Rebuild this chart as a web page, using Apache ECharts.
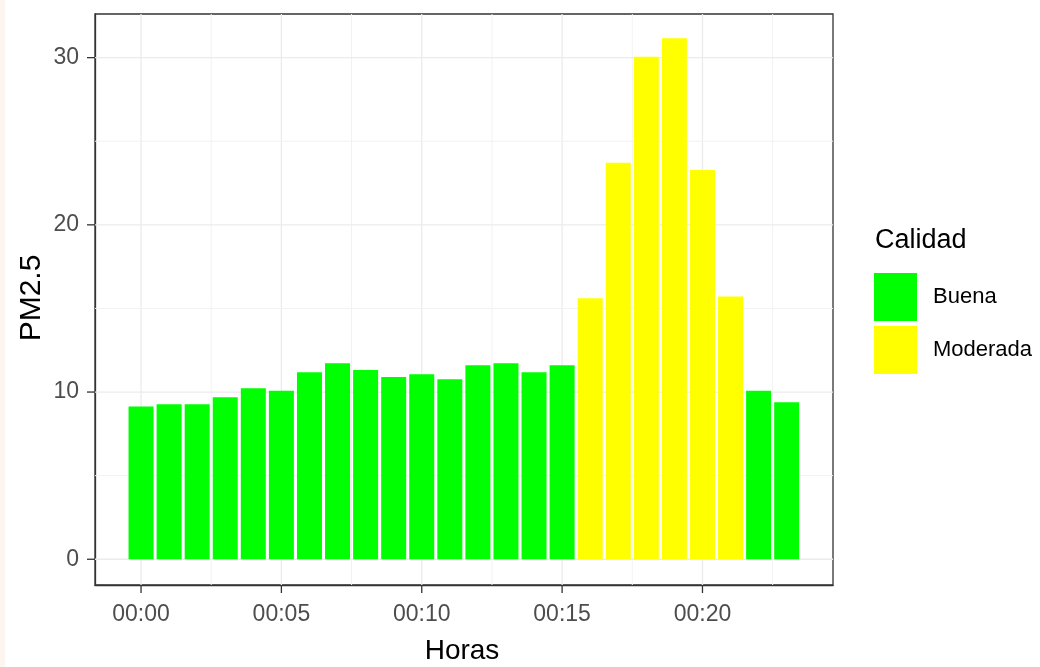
<!DOCTYPE html>
<html>
<head>
<meta charset="utf-8">
<script src="https://cdn.jsdelivr.net/npm/echarts@6/dist/echarts.min.js"></script>
<style>
html,body{margin:0;padding:0;background:#ffffff;}
#c{width:1040px;height:667px;}
</style>
</head>
<body>
<div id="c"></div>
<script>
// ---------- data ----------
const hours = [0,1,2,3,4,5,6,7,8,9,10,11,12,13,14,15,16,17,18,19,20,21,22,23];
const pm25 = [9.13,9.27,9.27,9.69,10.23,10.08,11.18,11.72,11.32,10.90,11.06,10.77,
              11.60,11.72,11.18,11.60,15.61,23.72,30.06,31.16,23.28,15.71,10.08,9.39];
const calidad = ['Buena','Buena','Buena','Buena','Buena','Buena','Buena','Buena',
                 'Buena','Buena','Buena','Buena','Buena','Buena','Buena','Buena',
                 'Moderada','Moderada','Moderada','Moderada','Moderada','Moderada',
                 'Buena','Buena'];
const categories = ['Buena','Moderada'];
const xTickValues = [0,5,10,15,20];
const xTickLabels = ['00:00','00:05','00:10','00:15','00:20'];
const yTickValues = [0,10,20,30];
const xMinorGrid = [2.5,7.5,12.5,17.5,22.5];
const yMinorGrid = [5,15,25];

// ---------- styling ----------
const FONT = "'Liberation Sans',Arial,sans-serif";
const colors = {Buena:'#00ff00', Moderada:'#ffff00'};
const X_MIN = -1.64, X_MAX = 24.65, Y_MIN = -1.54, Y_MAX = 32.61;
const TICK_LEN = 8;

const chart = echarts.init(document.getElementById('c'), null, {renderer:'canvas'});

const vGrid = xTickValues.map(v => [v, 1]).concat(xMinorGrid.map(v => [v, 0]));
const hGrid = yTickValues.map(v => [v, 1]).concat(yMinorGrid.map(v => [v, 0]));

function gridLine(vertical) {
  return function (params, api) {
    const v = api.value(0);
    const major = api.value(1) === 1;
    const p1 = vertical ? api.coord([v, Y_MIN]) : api.coord([X_MIN, v]);
    const p2 = vertical ? api.coord([v, Y_MAX]) : api.coord([X_MAX, v]);
    return {
      type: 'line',
      shape: {x1: p1[0], y1: p1[1], x2: p2[0], y2: p2[1]},
      style: {stroke: major ? '#ebebeb' : '#f2f2f2', lineWidth: major ? 1.3 : 1}
    };
  };
}

function tickMark(vertical) {
  return function (params, api) {
    const v = api.value(0);
    const p = vertical ? api.coord([v, Y_MIN]) : api.coord([X_MIN, v]);
    const shape = vertical
      ? {x1: p[0], y1: p[1], x2: p[0], y2: p[1] + TICK_LEN}
      : {x1: p[0], y1: p[1], x2: p[0] - TICK_LEN, y2: p[1]};
    return {type: 'line', shape: shape, style: {stroke: '#333333', lineWidth: 1.3}};
  };
}

const barSeries = categories.map(cat => ({
  name: cat,
  type: 'bar',
  z: 3,
  barWidth: 25,
  barGap: '-100%',
  itemStyle: {color: colors[cat]},
  data: hours.map((h, i) => calidad[i] === cat ? [h, pm25[i]] : [h, null])
}));

const axisLineStyle = {color: '#333333', width: 1.3};

const option = {
  animation: false,
  backgroundColor: '#ffffff',
  grid: {
    left: 95, right: 207, top: 14, bottom: 82,
    show: true, borderColor: '#333333', borderWidth: 1.3, backgroundColor: '#ffffff',
    containLabel: false
  },
  xAxis: {
    type: 'value', min: X_MIN, max: X_MAX,
    axisLine: {show: true, onZero: false, lineStyle: axisLineStyle},
    splitLine: {show: false},
    axisTick: {show: false},
    axisLabel: {
      customValues: xTickValues, margin: 18,
      fontFamily: FONT, fontSize: 23, color: '#4d4d4d',
      formatter: v => xTickLabels[xTickValues.indexOf(v)] ?? ''
    }
  },
  yAxis: {
    type: 'value', min: Y_MIN, max: Y_MAX,
    axisLine: {show: true, onZero: false, lineStyle: axisLineStyle},
    splitLine: {show: false},
    axisTick: {show: false},
    axisLabel: {
      customValues: yTickValues, margin: 16,
      fontFamily: FONT, fontSize: 23, color: '#4d4d4d'
    }
  },
  legend: {
    data: categories,
    orient: 'vertical',
    left: 874, top: 273,
    padding: 0,
    itemWidth: 43, itemHeight: 48, itemGap: 5,
    icon: 'rect',
    selectedMode: false,
    textStyle: {fontFamily: FONT, fontSize: 22, color: '#000000', padding: [0,0,0,11]}
  },
  graphic: [
    {type: 'rect', left: 0, top: 0, shape: {width: 5, height: 667}, style: {fill: '#fdf5ef'}, silent: true},
    {type: 'text', x: 875, y: 241, silent: true,
     style: {text: 'Calidad', fontFamily: FONT, fontSize: 27, fill: '#000000', align: 'left', verticalAlign: 'middle'}},
    {type: 'text', x: 462, y: 651, silent: true,
     style: {text: 'Horas', fontFamily: FONT, fontSize: 28, fill: '#000000', align: 'center', verticalAlign: 'middle'}},
    {type: 'text', x: 32, y: 298, rotation: Math.PI / 2, silent: true,
     style: {text: 'PM2.5', fontFamily: FONT, fontSize: 30, fill: '#000000', align: 'center', verticalAlign: 'middle'}}
  ],
  series: [
    {type: 'custom', name: 'vgrid', z: 1, silent: true, renderItem: gridLine(true), data: vGrid, clip: true},
    {type: 'custom', name: 'hgrid', z: 1, silent: true, renderItem: gridLine(false), data: hGrid, clip: true},
    {type: 'custom', name: 'xticks', z: 4, silent: true, renderItem: tickMark(true), data: xTickValues.map(v => [v]), clip: false},
    {type: 'custom', name: 'yticks', z: 4, silent: true, renderItem: tickMark(false), data: yTickValues.map(v => [v]), clip: false}
  ].concat(barSeries)
};

chart.setOption(option);
</script>
</body>
</html>
